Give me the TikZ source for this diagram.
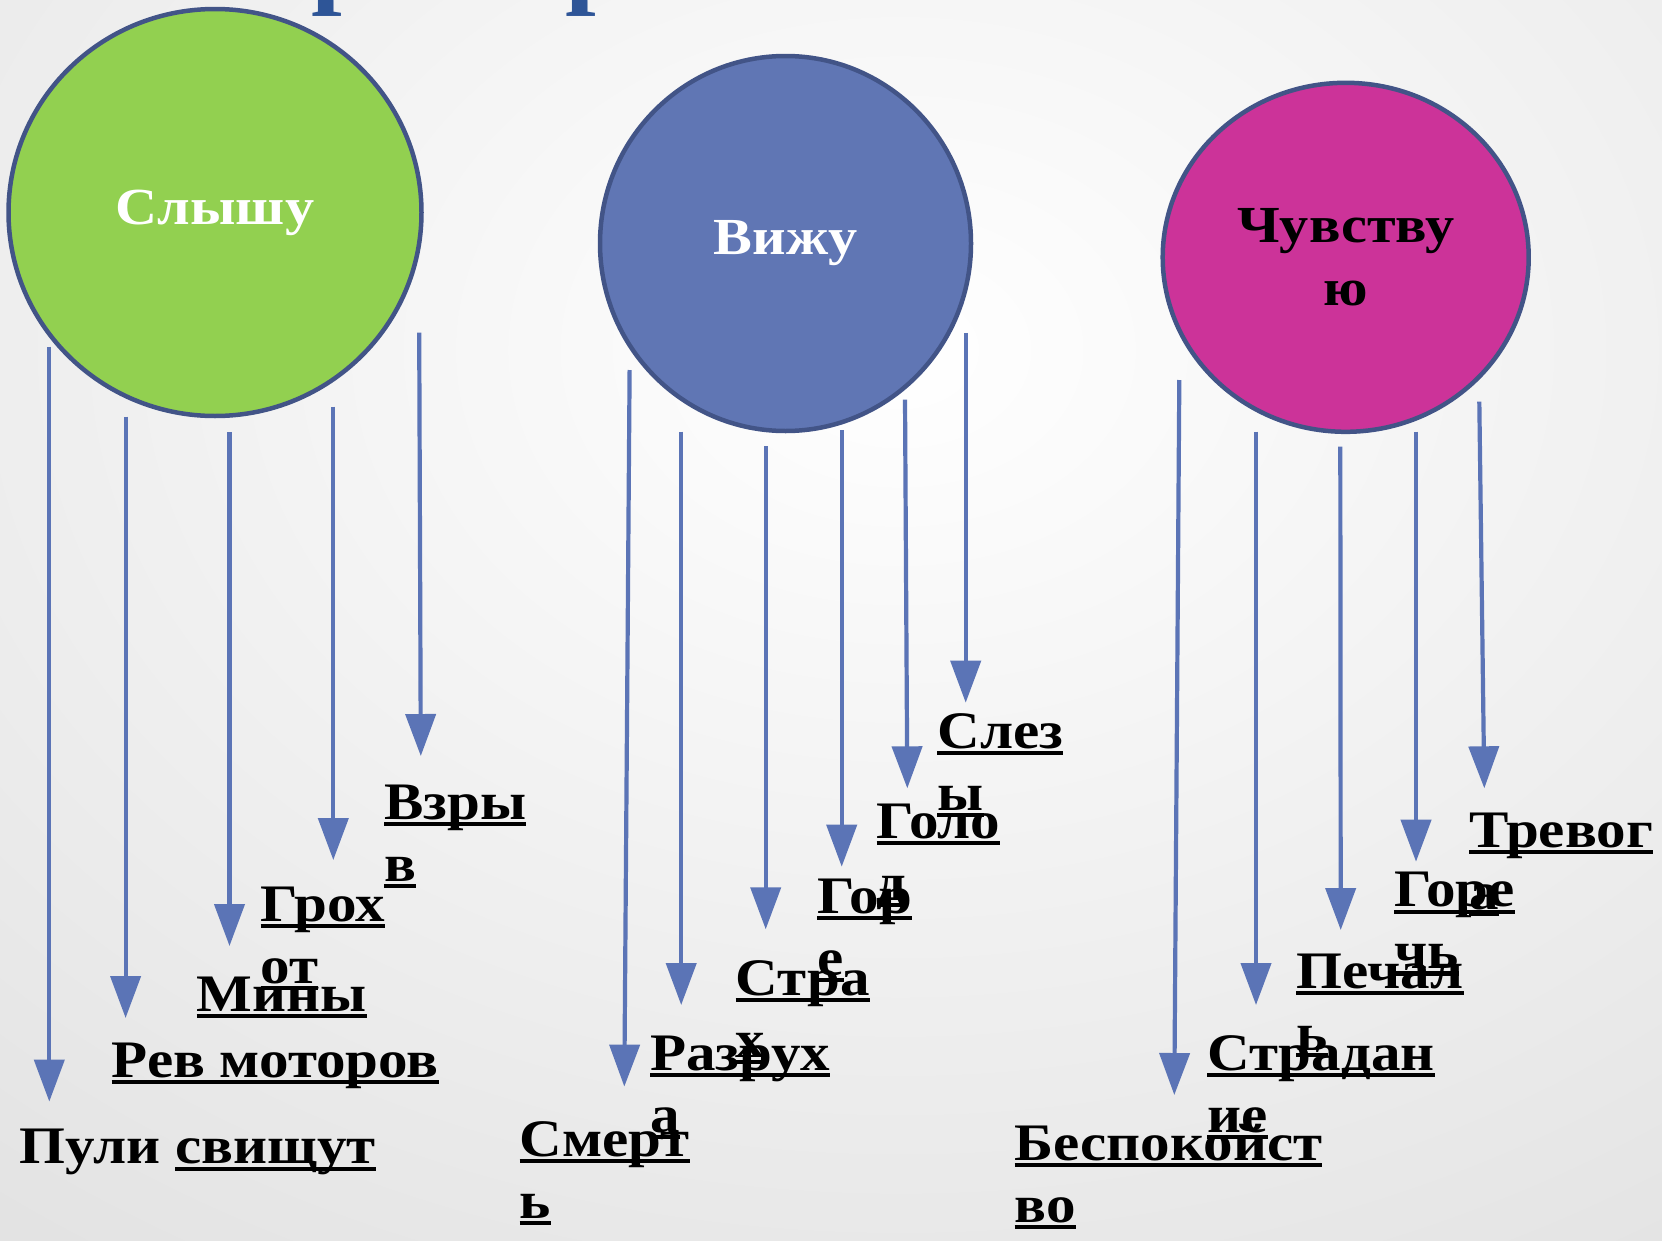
\documentclass[tikz,border=0pt]{standalone}
\usepackage{fontspec}
\setmainfont{Liberation Serif}[FakeStretch=1.12]
\usetikzlibrary{arrows.meta,positioning,shapes.geometric}
\definecolor{rim}{HTML}{425487}
\definecolor{hearfill}{HTML}{92D050}
\definecolor{seefill}{HTML}{6076B4}
\definecolor{feelfill}{HTML}{CC3399}
\definecolor{pointer}{HTML}{5B74B6}
\definecolor{heading}{HTML}{2E5597}
\newcommand{\uln}[1]{\setbox0\hbox{#1}\rlap{\rule[-2pt]{\wd0}{1.2pt}}\box0}
\tikzset{
  bubble/.style={ellipse,draw=rim,line width=0.45mm,inner sep=0pt,
    font=\fontsize{14.8}{17.9}\selectfont\bfseries,align=center},
  lbl/.style={anchor=base west,inner sep=0pt,align=left,
    font=\fontsize{15}{17.6}\selectfont\bfseries},
  arr/.style={draw=pointer,line width=0.42mm,
    -{Triangle[length=4.2mm,width=3mm]}}
}

\begin{document}
\begin{tikzpicture}[x=0.1mm,y=-0.1mm]
		\useasboundingbox (0,0) rectangle (1662,1240);
		\begin{scope}
		\clip (0,0) rectangle (1662,1240);
		\shade [inner color=white,outer color=black!15] (-1100,-1150) rectangle (2900,1850);
		\end{scope}
		% bits of the heading, cut off by the top edge
		\node (head1) [anchor=base west,inner sep=0pt,text=heading,font=\fontsize{28}{30}\selectfont\bfseries] at (311,-4.4) {р};
		\node (head2) [anchor=base west,inner sep=0pt,text=heading,font=\fontsize{28}{30}\selectfont\bfseries] at (565,-4.4) {р};
		\node (hear) [bubble,fill=hearfill,text=white,minimum width=41.3mm,minimum height=40.7mm] at (215,212.5) {Слышу};
		\node (see) [bubble,fill=seefill,text=white,minimum width=37.1mm,minimum height=37.5mm] at (785.5,243.5) {Вижу};
		\node (feel) [bubble,fill=feelfill,text=black,minimum width=36.6mm,minimum height=34.9mm] at (1345.7,257.3) {Чувству\\ю};
		% two-line labels sit on their last line
		\node (h1) [lbl] at (18.5,1163.7) {Пули \uln{свищут}};
		\node (h2) [lbl] at (111,1077) {\uln{Рев моторов}};
		\node (h3) [lbl] at (196,1011) {\uln{Мины}};
		\node (h4) [lbl] at (260,983) {\uln{Грох}\\\uln{от}};
		\node (h5) [lbl] at (383.7,881) {\uln{Взры}\\\uln{в}};
		\node (s1) [lbl] at (519,1218) {\uln{Смерт}\\\uln{ь}};
		\node (s2) [lbl] at (649.3,1132) {\uln{Разрух}\\\uln{а}};
		\node (s3) [lbl] at (735,1057) {\uln{Стра}\\\uln{х}};
		\node (s4) [lbl] at (816.7,975.2) {\uln{Гор}\\\uln{е}};
		\node (s5) [lbl] at (876,900.2) {\uln{Голо}\\\uln{д}};
		\node (s6) [lbl] at (936.7,810.2) {\uln{Слез}\\\uln{ы}};
		\node (f1) [lbl] at (1013.8,1222) {\uln{Беспокойст}\\\uln{во}};
		\node (f2) [lbl] at (1206.7,1132) {\uln{Страдан}\\\uln{ие}};
		\node (f3) [lbl] at (1295.7,1050.2) {\uln{Печал}\\\uln{ь}};
		\node (f4) [lbl] at (1393.3,968.6) {\uln{Горе}\\\uln{чь}};
		\node (f5) [lbl] at (1468.3,909.2) {\uln{Тревог}\\\uln{а}};
		\foreach \n/\xa/\ya/\xb/\yb in {1/49.3/346.7/49.3/1101.6, 2/125.6/416.7/125.6/1018, 3/229.5/432.3/229.5/946, 4/333.3/406.7/333.3/860, 5/419.2/332.7/420.8/756,
		  6/629.6/370/624.3/1086.6, 7/681.2/431.7/681.2/1005, 8/765.7/446/765.7/929.3, 9/841.7/430/841.7/866.7, 10/905/399.6/907.3/788.3, 11/965.7/332.8/965.7/702.7,
		  12/1179.3/380/1174.3/1095, 13/1256/431.7/1256/1005, 14/1340.3/446.7/1340.7/930, 15/1416/431.7/1416/861.7, 16/1479.3/401.7/1484.3/788.3}{
		  \coordinate (top\n) at (\xa,\ya);
		  \coordinate (tip\n) at (\xb,\yb);
		  \draw [arr] (top\n) -- (tip\n);
		}
\end{tikzpicture}
\end{document}
